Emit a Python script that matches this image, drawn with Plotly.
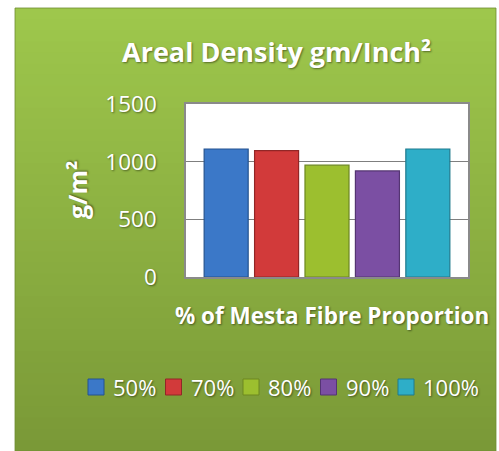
import plotly.graph_objects as go

# Areal density of mesta fibre blends
series_names = ["50%", "70%", "80%", "90%", "100%"]
density_values = [1110, 1095, 970, 920, 1110]
category = ["% of Mesta Fibre Proportion"]
y_ticks = [0, 500, 1000, 1500]

bar_colors = ["#3b78c8", "#d23a3a", "#9cbf2f", "#7b4fa3", "#2eaec8"]
edge_colors = ["#24538f", "#922626", "#6c8720", "#543572", "#1f7a8d"]

W, H = 499, 451
L, R, T, B = 186, 31, 104, 174
PW, PH = W - L - R, H - T - B


def px_x(p):
    return (p - L) / PW


def px_y(p):
    return (H - B - p) / PH


fig = go.Figure()
for name, val, col, edge in zip(series_names, density_values, bar_colors, edge_colors):
    fig.add_trace(go.Bar(
        x=category, y=[val], name=name, showlegend=False,
        marker=dict(color=col, line=dict(color=edge, width=1.2)),
    ))

shapes = []
# green panel with vertical gradient (overlapping bands avoid seams)
top_rgb = (158, 199, 76)
bot_rgb = (122, 153, 55)
y0p, y1p = 8, 451
n = 40
for i in range(n):
    t = i / (n - 1)
    c = tuple(int(round(a + (b - a) * t)) for a, b in zip(top_rgb, bot_rgb))
    ya = y0p + (y1p - y0p) * i / n
    yb = min(y1p, y0p + (y1p - y0p) * (i + 1) / n + 3)
    shapes.append(dict(
        type="rect", xref="paper", yref="paper", layer="below",
        x0=px_x(15), x1=px_x(496), y0=px_y(yb), y1=px_y(ya),
        fillcolor="rgb(%d,%d,%d)" % c, line=dict(width=0),
    ))
# panel edge
shapes.append(dict(
    type="rect", xref="paper", yref="paper", layer="below",
    x0=px_x(15), x1=px_x(496), y0=px_y(451), y1=px_y(8),
    fillcolor="rgba(0,0,0,0)", line=dict(color="rgba(110,140,50,0.8)", width=1),
))
# white plotting area
shapes.append(dict(
    type="rect", xref="paper", yref="paper", layer="below",
    x0=0, x1=1, y0=0, y1=1, fillcolor="white", line=dict(width=0),
))

shadow = "1px 1px 2px rgba(0,0,0,0.45)"
annotations = [
    dict(text="<b>Areal Density gm/Inch²</b>", xref="paper", yref="paper",
         x=px_x(276), y=px_y(51), showarrow=False, xanchor="center", yanchor="middle",
         font=dict(family="Open Sans", size=27, color="white", shadow=shadow)),
    dict(text="<b>% of Mesta Fibre Proportion</b>", xref="paper", yref="paper",
         x=px_x(332), y=px_y(315), showarrow=False, xanchor="center", yanchor="middle",
         font=dict(family="Open Sans", size=22.5, color="white", shadow=shadow)),
    dict(text="<b>g/m²</b>", xref="paper", yref="paper", textangle=-90,
         x=px_x(77), y=px_y(190), showarrow=False, xanchor="center", yanchor="middle",
         font=dict(family="Open Sans", size=25, color="white", shadow=shadow)),
]

# legend row: swatch + label for each series
leg_x0, leg_pitch, leg_y, sw = 88, 77.5, 387, 16
for i, (name, col, edge) in enumerate(zip(series_names, bar_colors, edge_colors)):
    sx = leg_x0 + i * leg_pitch
    shapes.append(dict(
        type="rect", xref="paper", yref="paper", layer="above",
        x0=px_x(sx), x1=px_x(sx + sw), y0=px_y(leg_y + sw / 2), y1=px_y(leg_y - sw / 2),
        fillcolor=col, line=dict(color=edge, width=1),
    ))
    annotations.append(dict(
        text=name, xref="paper", yref="paper", x=px_x(sx + sw + 7), y=px_y(leg_y),
        showarrow=False, xanchor="left", yanchor="middle",
        font=dict(family="Open Sans", size=22, color="white", shadow=shadow),
    ))

fig.update_layout(
    width=W, height=H, autosize=False,
    margin=dict(l=L, r=R, t=T, b=B, pad=0),
    paper_bgcolor="white", plot_bgcolor="rgba(0,0,0,0)",
    barmode="group", bargap=0.106, bargroupgap=0.127,
    shapes=shapes, annotations=annotations,
    showlegend=False,
    font=dict(family="Open Sans", color="white"),
)
fig.update_xaxes(showticklabels=False, showline=True, mirror=True, linecolor="#8a8a8a",
                 linewidth=1.5, showgrid=False, ticks="")
fig.update_yaxes(range=[0, 1500], tickvals=y_ticks, showline=True, mirror=True,
                 linecolor="#8a8a8a", linewidth=1.5, showgrid=True, gridcolor="#7f7f7f",
                 gridwidth=1, zeroline=False, ticks="", ticklabelstandoff=23,
                 tickfont=dict(family="Open Sans", size=22.5, color="white", shadow=shadow))

fig.write_html("out.html")
